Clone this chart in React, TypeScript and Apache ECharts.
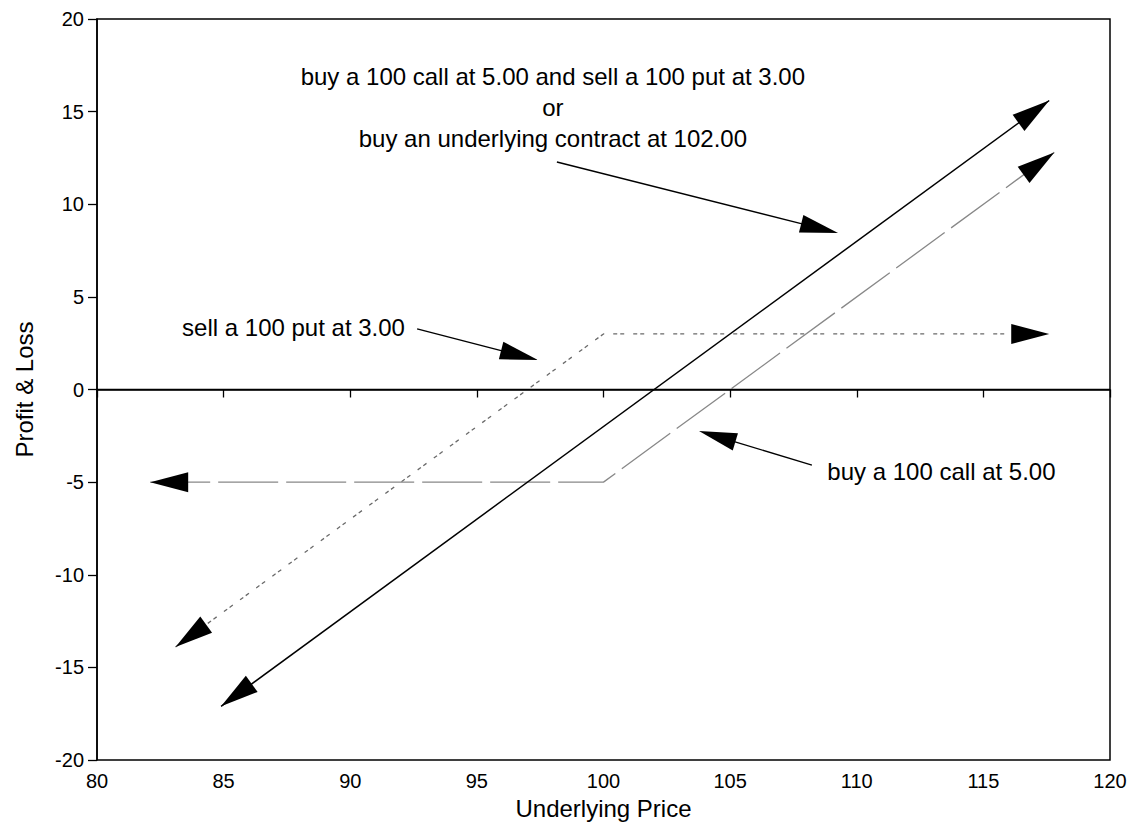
import React, { useEffect, useRef } from "react";
import * as echarts from "echarts";

// ---- axes ----
const X_MIN = 80;
const X_MAX = 120;
const Y_MIN = -20;
const Y_MAX = 20;
const STEP = 5;

// ---- series (Underlying price -> P&L) ----
const underlyingX = [84.9, 117.6];
const underlyingY = [-17.1, 15.6];
const putX = [83.1, 100, 117.6];
const putY = [-13.9, 3, 3];
const callX = [82.1, 100, 117.8];
const callY = [-5, -5, 12.8];

// ---- annotations (data units) ----
const calloutLines = [
  "buy a 100 call at 5.00 and sell a 100 put at 3.00",
  "or",
  "buy an underlying contract at 102.00",
];
const calloutX = [98, 98, 98];
const calloutY = [16.87, 15.2, 13.57];
const sideLabels = ["sell a 100 put at 3.00", "buy a 100 call at 5.00"];
const sideLabelX = [83.36, 108.84];
const sideLabelY = [3.37, -4.45];
// tailX, tailY, tipX, tipY
const pointerArrows = [
  [98.16, 12.28, 109.26, 8.45],
  [92.64, 3.27, 97.41, 1.59],
  [108.23, -4.08, 103.77, -2.24],
];

const FONT = "'Liberation Sans', Arial, Helvetica, sans-serif";

const zip = (xs: number[], ys: number[]) => xs.map((x, i) => [x, ys[i]]);

function headPoints(tip: number[], from: number[], L: number, W: number) {
  let dx = tip[0] - from[0];
  let dy = tip[1] - from[1];
  const len = Math.hypot(dx, dy) || 1;
  dx /= len;
  dy /= len;
  const bx = tip[0] - dx * L;
  const by = tip[1] - dy * L;
  return {
    pts: [tip, [bx - dy * W, by + dx * W], [bx + dy * W, by - dx * W]],
    base: [bx + dx * 2, by + dy * 2],
  };
}

export default function App() {
  const ref = useRef<HTMLDivElement>(null);

  useEffect(() => {
    if (!ref.current) return;
    const chart = echarts.init(ref.current, undefined, { renderer: "svg" });

    const endHeads = [
      [underlyingX[0], underlyingY[0], underlyingX[1], underlyingY[1]],
      [underlyingX[1], underlyingY[1], underlyingX[0], underlyingY[0]],
      [putX[0], putY[0], putX[1], putY[1]],
      [putX[2], putY[2], putX[1], putY[1]],
      [callX[0], callY[0], callX[1], callY[1]],
      [callX[2], callY[2], callX[1], callY[1]],
    ];

    const option: any = {
      animation: false,
      backgroundColor: "#fff",
      grid: {
        show: true,
        left: 97,
        right: 23,
        top: 19,
        bottom: 79,
        borderColor: "#000",
        borderWidth: 1.5,
        backgroundColor: "transparent",
      },
      xAxis: {
        type: "value",
        min: X_MIN,
        max: X_MAX,
        interval: STEP,
        name: "Underlying Price",
        nameLocation: "middle",
        nameGap: 36,
        nameTextStyle: { fontSize: 24, color: "#000", fontFamily: FONT },
        axisLine: { show: true, lineStyle: { color: "#000", width: 1.5 } },
        axisTick: { show: true, inside: false, length: 8, lineStyle: { color: "#000", width: 1.3 } },
        axisLabel: { fontSize: 20, color: "#000", margin: 11, fontFamily: FONT },
        splitLine: { show: false },
      },
      yAxis: {
        type: "value",
        min: Y_MIN,
        max: Y_MAX,
        interval: STEP,
        name: "Profit & Loss",
        nameLocation: "middle",
        nameGap: 61,
        nameTextStyle: { fontSize: 24, color: "#000", fontFamily: FONT },
        axisLine: { show: true, lineStyle: { color: "#000", width: 1.5 } },
        axisTick: { show: true, inside: false, length: 9, lineStyle: { color: "#000", width: 1.3 } },
        axisLabel: { fontSize: 20, color: "#000", margin: 13, fontFamily: FONT },
        splitLine: { show: false },
      },
      series: [
        {
          type: "line",
          data: zip(underlyingX, underlyingY),
          showSymbol: false,
          lineStyle: { color: "#000", width: 1.5 },
          silent: true,
          markLine: {
            silent: true,
            symbol: "none",
            label: { show: false },
            lineStyle: { color: "#000", width: 1.4, type: "solid" },
            data: [{ yAxis: 0 }],
          },
          z: 3,
        },
        {
          type: "line",
          data: zip(putX, putY),
          showSymbol: false,
          lineStyle: { color: "#6a6a6a", width: 1.3, type: [4, 3, 4, 9] },
          silent: true,
          z: 2,
        },
        {
          type: "line",
          data: zip(callX, callY),
          showSymbol: false,
          lineStyle: { color: "#888", width: 1.3, type: [60, 8] },
          silent: true,
          z: 2,
        },
        {
          type: "custom",
          coordinateSystem: "cartesian2d",
          data: endHeads,
          silent: true,
          clip: false,
          z: 5,
          renderItem: (params: any, api: any) => {
            const tip = api.coord([api.value(0), api.value(1)]);
            const from = api.coord([api.value(2), api.value(3)]);
            const h = headPoints(tip, from, 38, 10);
            return { type: "polygon", shape: { points: h.pts }, style: { fill: "#000" } };
          },
        },
        {
          type: "custom",
          coordinateSystem: "cartesian2d",
          data: pointerArrows,
          silent: true,
          clip: false,
          z: 5,
          renderItem: (params: any, api: any) => {
            const tail = api.coord([api.value(0), api.value(1)]);
            const tip = api.coord([api.value(2), api.value(3)]);
            const h = headPoints(tip, tail, 38, 9);
            return {
              type: "group",
              children: [
                {
                  type: "line",
                  shape: { x1: tail[0], y1: tail[1], x2: h.base[0], y2: h.base[1] },
                  style: { stroke: "#000", lineWidth: 1.4 },
                },
                { type: "polygon", shape: { points: h.pts }, style: { fill: "#000" } },
              ],
            };
          },
        },
        {
          type: "custom",
          coordinateSystem: "cartesian2d",
          data: zip(calloutX, calloutY),
          silent: true,
          clip: false,
          z: 6,
          renderItem: (params: any, api: any) => {
            const p = api.coord([api.value(0), api.value(1)]);
            return {
              type: "text",
              x: p[0],
              y: p[1],
              style: {
                text: calloutLines[params.dataIndex],
                fontSize: 24,
                fontFamily: FONT,
                fill: "#000",
                align: "center",
                verticalAlign: "middle",
              },
            };
          },
        },
        {
          type: "custom",
          coordinateSystem: "cartesian2d",
          data: zip(sideLabelX, sideLabelY),
          silent: true,
          clip: false,
          z: 6,
          renderItem: (params: any, api: any) => {
            const p = api.coord([api.value(0), api.value(1)]);
            return {
              type: "text",
              x: p[0],
              y: p[1],
              style: {
                text: sideLabels[params.dataIndex],
                fontSize: 24,
                fontFamily: FONT,
                fill: "#000",
                align: "left",
                verticalAlign: "middle",
              },
            };
          },
        },
      ],
    };

    chart.setOption(option);
    return () => chart.dispose();
  }, []);

  return (
    <div
      ref={ref}
      style={{ position: "fixed", left: 0, top: 0, width: 1133, height: 839, background: "#fff" }}
    />
  );
}
